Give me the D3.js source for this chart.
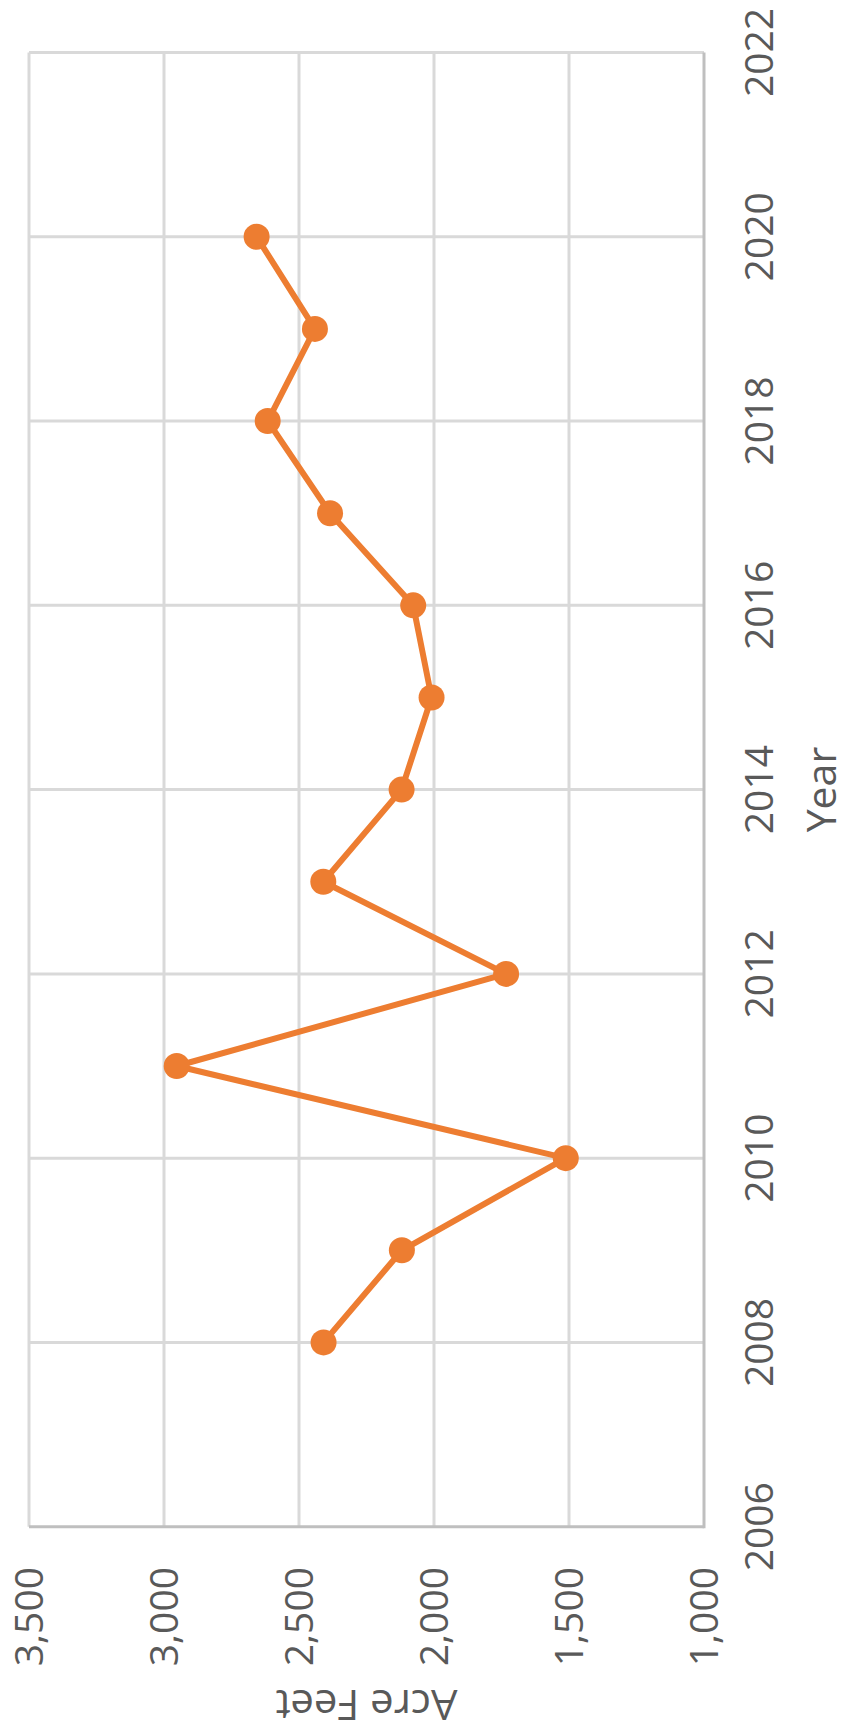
<!DOCTYPE html>
<html>
<head>
<meta charset="utf-8">
<script src="https://cdn.jsdelivr.net/npm/d3@7"></script>
<style>
html,body{margin:0;padding:0;background:#fff;}
svg{display:block;}
text{font-family:"Open Sans","Noto Sans",sans-serif;fill:#595959;}
</style>
</head>
<body>
<div id="chart"></div>
<script>
const years = [2008, 2009, 2010, 2011, 2012, 2013, 2014, 2015, 2016, 2017, 2018, 2019, 2020];
const acreFeet = [2409, 2119, 1512, 2953, 1733, 2410, 2120, 2009, 2077, 2385, 2616, 2441, 2657];
const yearTicks = [2006, 2008, 2010, 2012, 2014, 2016, 2018, 2020, 2022];
const valueTicks = [1000, 1500, 2000, 2500, 3000, 3500];
const xTitle = "Year";
const yTitle = "Acre Feet";

const W = 849, H = 1736;
const svg = d3.select("#chart").append("svg").attr("width", W).attr("height", H);
svg.append("rect").attr("width", W).attr("height", H).attr("fill", "#fff");

// Draw the chart in an unrotated frame (width H, height W), then rotate -90deg.
const g = svg.append("g").attr("transform", `translate(0,${H}) rotate(-90)`);

const x = d3.scaleLinear().domain([2006, 2022]).range([209.3, 1683.5]);
const y = d3.scaleLinear().domain([1000, 3500]).range([704, 29]);

// value gridlines
g.append("g").selectAll("line").data(valueTicks.filter(v => v !== 1000)).join("line")
  .attr("x1", x(2006)).attr("x2", x(2022))
  .attr("y1", d => y(d)).attr("y2", d => y(d))
  .attr("stroke", "#d9d9d9").attr("stroke-width", 3);
// year gridlines
g.append("g").selectAll("line").data(yearTicks.filter(v => v !== 2006)).join("line")
  .attr("x1", d => x(d)).attr("x2", d => x(d))
  .attr("y1", y(3500)).attr("y2", y(1000))
  .attr("stroke", "#d9d9d9").attr("stroke-width", 3);
// axis lines
g.append("line").attr("x1", x(2006) - 1.5).attr("x2", x(2022)).attr("y1", y(1000)).attr("y2", y(1000))
  .attr("stroke", "#bfbfbf").attr("stroke-width", 3);
g.append("line").attr("x1", x(2006)).attr("x2", x(2006)).attr("y1", y(3500)).attr("y2", y(1000))
  .attr("stroke", "#bfbfbf").attr("stroke-width", 3);

// tick labels
const fmt = d3.format(",");
g.append("g").selectAll("text").data(yearTicks).join("text")
  .attr("x", d => x(d)).attr("y", 773)
  .attr("text-anchor", "middle").attr("font-size", 39)
  .text(d => d);
g.append("g").selectAll("text").data(valueTicks).join("text")
  .attr("x", 169).attr("y", d => y(d)).attr("dy", "0.35em")
  .attr("text-anchor", "end").attr("font-size", 39)
  .text(d => fmt(d));

// axis titles
g.append("text").attr("x", (x(2006) + x(2022)) / 2).attr("y", 836)
  .attr("text-anchor", "middle").attr("font-size", 41).text(xTitle);
g.append("text").attr("transform", `translate(46,${(y(1000) + y(3500)) / 2}) rotate(-90)`)
  .attr("text-anchor", "middle").attr("font-size", 42).text(yTitle);

// series
const data = years.map((yr, i) => ({ yr, v: acreFeet[i] }));
const line = d3.line().x(d => x(d.yr)).y(d => y(d.v));
g.append("path").datum(data).attr("d", line)
  .attr("fill", "none").attr("stroke", "#ED7D31").attr("stroke-width", 6)
  .attr("stroke-linejoin", "round").attr("stroke-linecap", "round");
g.append("g").selectAll("circle").data(data).join("circle")
  .attr("cx", d => x(d.yr)).attr("cy", d => y(d.v)).attr("r", 13)
  .attr("fill", "#ED7D31");
</script>
</body>
</html>
